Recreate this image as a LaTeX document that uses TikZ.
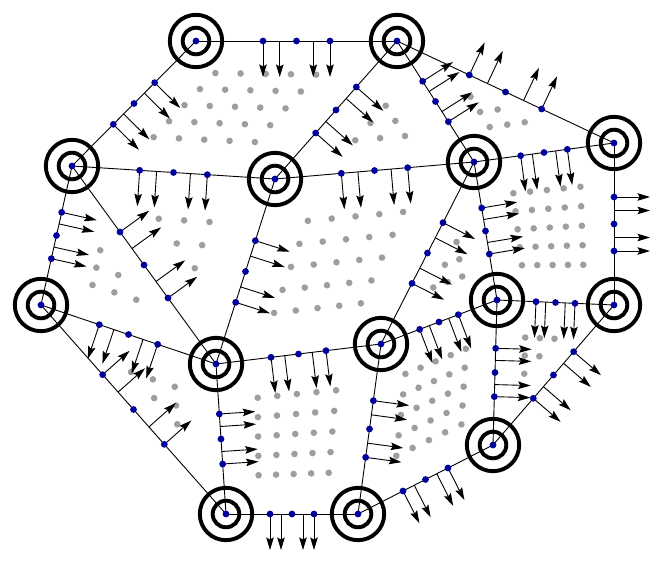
\documentclass[tikz,border=0pt]{standalone}
\usetikzlibrary{calc,arrows.meta}
\definecolor{dofblue}{RGB}{0,0,155}
\definecolor{quadgrey}{RGB}{158,158,158}
\tikzset{
  edgeline/.style={line width=0.9pt},
  normal/.style={line width=0.9pt,-{Stealth[length=12.5pt,width=7.5pt,inset=2pt]}},
  ring/.style={line width=3.9pt},
}
\newcommand{\EdgeList}{v1/v2, v3/v1, v4/v2, v5/v2, v6/v2, v3/v4, v7/v3, v8/v3, v4/v5, v8/v4, v5/v6, v9/v5, v10/v5, v11/v6, v7/v8, v13/v7, v8/v9, v13/v8, v9/v10, v14/v9, v10/v11, v12/v10, v12/v11, v14/v12, v13/v14}

\begin{document}
\begin{tikzpicture}[x=1pt,y=-1pt]
    \useasboundingbox (0,0) rectangle (664,565);

    \coordinate (v1) at (196,41);
    \coordinate (v2) at (397,41);
    \coordinate (v3) at (72,166);
    \coordinate (v4) at (275,179);
    \coordinate (v5) at (474,162);
    \coordinate (v6) at (614,143);
    \coordinate (v7) at (41,305);
    \coordinate (v8) at (216,364);
    \coordinate (v9) at (381,344);
    \coordinate (v10) at (497,300);
    \coordinate (v11) at (614,305);
    \coordinate (v12) at (493,445);
    \coordinate (v13) at (226,514);
    \coordinate (v14) at (358,514);

    % quadrature points
    \foreach \a/\b/\c/\d in {v1/v2/v4/v3, v4/v5/v9/v8, v5/v6/v11/v10, v8/v9/v14/v13, v9/v10/v12/v14}
      \foreach \u in {0.25,0.375,0.5,0.625,0.75}
        \foreach \w in {0.25,0.375,0.5,0.625,0.75}{
          \coordinate (p) at ($(\a)!\u!(\b)$);
          \coordinate (q) at ($(\d)!\u!(\c)$);
          \fill[quadgrey] ($(p)!\w!(q)$) circle (3.3pt);
        }
    \foreach \a/\b/\c in {v5/v4/v2, v5/v6/v2, v4/v3/v8, v7/v8/v3, v8/v7/v13, v10/v11/v12, v10/v9/v5}
      \foreach \s/\t in {0.25/0.25, 0.375/0.25, 0.5/0.25, 0.25/0.375, 0.375/0.375, 0.25/0.5}{
        \coordinate (p) at ($(\a)!\s!(\b)$);
        \coordinate (q) at ($(\c)-(\a)$);
        \fill[quadgrey] ($(p)+\t*(q)$) circle (3.3pt);
      }

    % edges and normals
    \foreach \a/\b in \EdgeList
      \draw[edgeline] (\a) -- (\b);
    \foreach \a/\b in \EdgeList
      \foreach \t in {0.3333,0.4167,0.5833,0.6667}{
        \coordinate (m) at ($(\a)!\t!(\b)$);
        \draw[normal] (m) -- ($(m)!36pt!-90:(\b)$);
      }
    \foreach \a/\b in \EdgeList
      \foreach \t in {0.3333,0.5,0.6667}
        \fill[dofblue] ($(\a)!\t!(\b)$) circle (3.4pt);

    % vertices
    \foreach \i in {1,...,14}{
      \draw[ring] (v\i) circle (26.2pt) (v\i) circle (13.3pt);
      \fill[dofblue] (v\i) circle (3.4pt);
    }

\end{tikzpicture}
\end{document}
